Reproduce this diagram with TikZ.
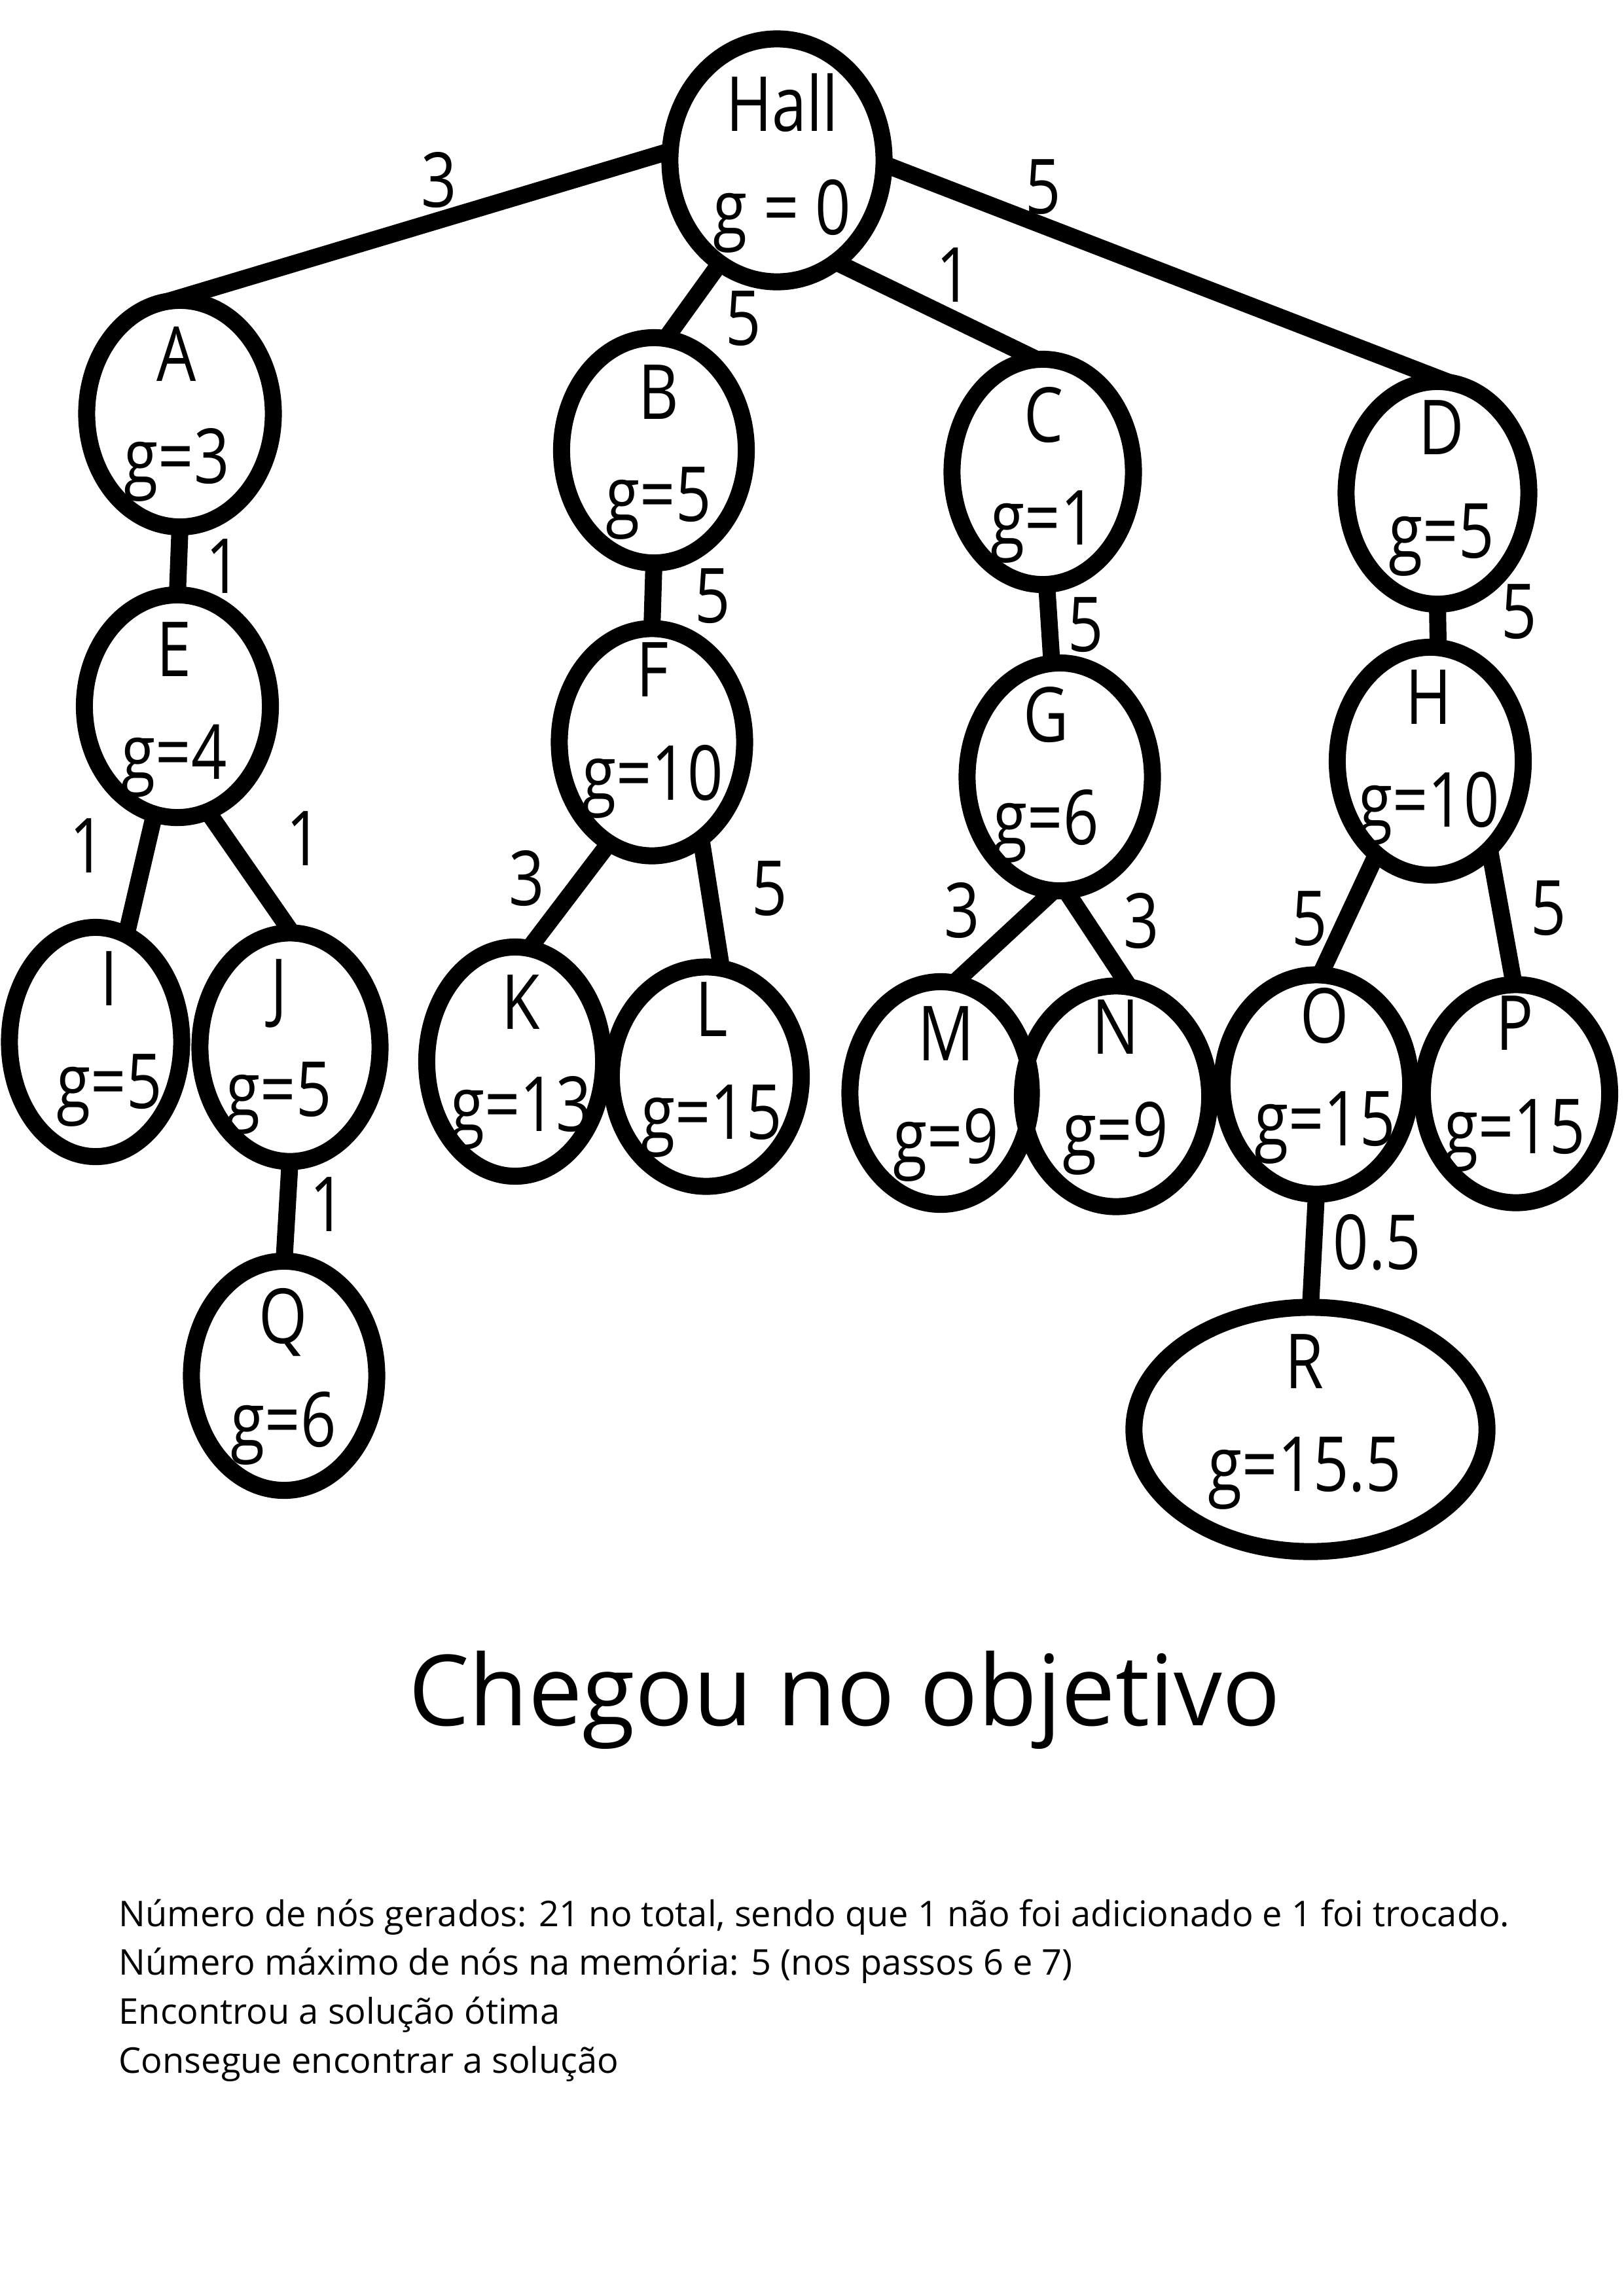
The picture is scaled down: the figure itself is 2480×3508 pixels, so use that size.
\documentclass[tikz,border=0pt]{standalone}
\usepackage{fontspec}
\setmainfont{Open Sans}
\newfontfamily\condfont[FakeStretch=0.82]{Open Sans}
\newfontfamily\titlefont[FakeStretch=0.98]{Open Sans}
\usetikzlibrary{shapes.geometric}
\begin{document}
\begin{tikzpicture}[x=0.01cm,y=-0.01cm,
  ell/.style={ellipse,draw,line width=0.26cm,inner sep=0pt,outer sep=0pt},
  edge/.style={line width=0.26cm},
  lab/.style={anchor=base,inner sep=0pt,font=\condfont\fontsize{33}{40}\selectfont},
  wt/.style={inner sep=0pt,font=\condfont\fontsize{33}{40}\selectfont},
  info/.style={anchor=base west,inner sep=0pt,font=\fontsize{15.4}{18}\selectfont}]
\useasboundingbox (0,0) rectangle (2480,3508);

% ellipses
\node[ell,minimum width=3.27cm,minimum height=3.71cm] (Hall) at (1187,245) {};
\node[ell,minimum width=2.85cm,minimum height=3.46cm] (A) at (275,632) {};
\node[ell,minimum width=2.82cm,minimum height=3.44cm] (B) at (999,688) {};
\node[ell,minimum width=2.77cm,minimum height=3.44cm] (C) at (1593,721) {};
\node[ell,minimum width=2.79cm,minimum height=3.40cm] (D) at (2196,753) {};
\node[ell,minimum width=2.84cm,minimum height=3.40cm] (E) at (271,1079) {};
\node[ell,minimum width=2.83cm,minimum height=3.47cm] (F) at (996,1134) {};
\node[ell,minimum width=2.83cm,minimum height=3.48cm] (G) at (1619,1187) {};
\node[ell,minimum width=2.84cm,minimum height=3.48cm] (H) at (2185,1163) {};
\node[ell,minimum width=2.63cm,minimum height=3.50cm] (I) at (146,1592) {};
\node[ell,minimum width=2.75cm,minimum height=3.49cm] (J) at (443,1600) {};
\node[ell,minimum width=2.70cm,minimum height=3.50cm] (K) at (787,1622) {};
\node[ell,minimum width=2.90cm,minimum height=3.35cm] (L) at (1079,1645) {};
\node[ell,minimum width=2.77cm,minimum height=3.40cm] (M) at (1437,1670) {};
\node[ell,minimum width=2.86cm,minimum height=3.37cm] (N) at (1705,1675) {};
\node[ell,minimum width=2.88cm,minimum height=3.35cm] (O) at (2011,1657) {};
\node[ell,minimum width=2.86cm,minimum height=3.33cm] (P) at (2316,1671) {};
\node[ell,minimum width=2.83cm,minimum height=3.50cm] (Q) at (434,2102) {};
\node[ell,minimum width=5.39cm,minimum height=3.73cm] (R) at (2002,2184) {};

% edges
\draw[edge] (Hall.175) -- (A.96);
\draw[edge] (Hall.241) -- (B.84);
\draw[edge] (Hall.300) -- (C.93);
\draw[edge] (Hall.358) -- (D.84);
\draw[edge] (A.south) -- (E.north);
\draw[edge] (B.south) -- (F.north);
\draw[edge] (C.272) -- (G.94);
\draw[edge] (D.south) -- (H.86);
\draw[edge] (E.258) -- (I.74);
\draw[edge] (E.286) -- (J.89);
\draw[edge] (F.247) -- (K.83);
\draw[edge] (F.297) -- (L.82);
\draw[edge] (G.267) -- (M.83);
\draw[edge] (G.273) -- (N.83);
\draw[edge] (H.240) -- (O.88);
\draw[edge] (H.304) -- (P.91);
\draw[edge] (J.south) -- (Q.north);
\draw[edge] (O.south) -- (R.north);

% node texts
\node[lab] (Hall-n) at (1195,200) {Hall};
\node[lab] (Hall-g) at (1195,358) {g = 0};
\node[lab] (A-n) at (270,582) {A};
\node[lab] (A-g) at (270,738) {g=3};
\node[lab] (B-n) at (1006,640) {B};
\node[lab] (B-g) at (1006,796) {g=5};
\node[lab] (C-n) at (1594,675) {C};
\node[lab] (C-g) at (1594,832) {g=1};
\node[lab] (D-n) at (2202,694) {D};
\node[lab] (D-g) at (2202,852) {g=5};
\node[lab] (E-n) at (266,1033) {E};
\node[lab] (E-g) at (266,1190) {g=4};
\node[lab] (F-n) at (997,1064) {F};
\node[lab] (F-g) at (997,1222) {g=10};
\node[lab] (G-n) at (1598,1133) {G};
\node[lab] (G-g) at (1598,1290) {g=6};
\node[lab] (H-n) at (2183,1106) {H};
\node[lab] (H-g) at (2183,1263) {g=10};
\node[lab] (I-n) at (167,1536) {I};
\node[lab] (I-g) at (167,1693) {g=5};
\node[lab] (J-n) at (426,1548) {J};
\node[lab] (J-g) at (426,1705) {g=5};
\node[lab] (K-n) at (796,1572) {K};
\node[lab] (K-g) at (796,1728) {g=13};
\node[lab] (L-n) at (1087,1583) {L};
\node[lab] (L-g) at (1087,1740) {g=15};
\node[lab] (M-n) at (1445,1620) {M};
\node[lab] (M-g) at (1445,1777) {g=9};
\node[lab] (N-n) at (1704,1610) {N};
\node[lab] (N-g) at (1704,1767) {g=9};
\node[lab] (O-n) at (2024,1593) {O};
\node[lab] (O-g) at (2024,1750) {g=15};
\node[lab] (P-n) at (2314,1604) {P};
\node[lab] (P-g) at (2314,1762) {g=15};
\node[lab] (Q-n) at (433,2052) {Q};
\node[lab] (Q-g) at (433,2210) {g=6};
\node[lab] (R-n) at (1993,2121) {R};
\node[lab] (R-g) at (1993,2278) {g=15.5};

% edge weights
\node[wt] (w-HA) at (671,275) {3};
\node[wt] (w-HD) at (1594,286) {5};
\node[wt] (w-HC) at (1458,420) {1};
\node[wt] (w-HB) at (1136,487) {5};
\node[wt] (w-AE) at (342,865) {1};
\node[wt] (w-BF) at (1089,911) {5};
\node[wt] (w-CG) at (1659,955) {5};
\node[wt] (w-DH) at (2321,935) {5};
\node[wt] (w-EI) at (134,1292) {1};
\node[wt] (w-EJ) at (465,1281) {1};
\node[wt] (w-FK) at (805,1342) {3};
\node[wt] (w-FL) at (1176,1358) {5};
\node[wt] (w-GM) at (1470,1391) {3};
\node[wt] (w-GN) at (1744,1407) {3};
\node[wt] (w-HO) at (2001,1404) {5};
\node[wt] (w-HP) at (2366,1388) {5};
\node[wt] (w-JQ) at (501,1840) {1};
\node[wt] (w-OR) at (2104,1898) {0.5};

% texts
\node[anchor=base,inner sep=0pt,font=\titlefont\fontsize{42.7}{50}\selectfont] (title) at (1290,2636) {Chegou no objetivo};
\node[info] (t1) at (181,2943) {Número de nós gerados: 21 no total, sendo que 1 não foi adicionado e 1 foi trocado.};
\node[info] (t2) at (181,3017) {Número máximo de nós na memória: 5 (nos passos 6 e 7)};
\node[info] (t3) at (181,3092) {Encontrou a solução ótima};
\node[info] (t4) at (181,3167) {Consegue encontrar a solução};
\end{tikzpicture}
\end{document}
